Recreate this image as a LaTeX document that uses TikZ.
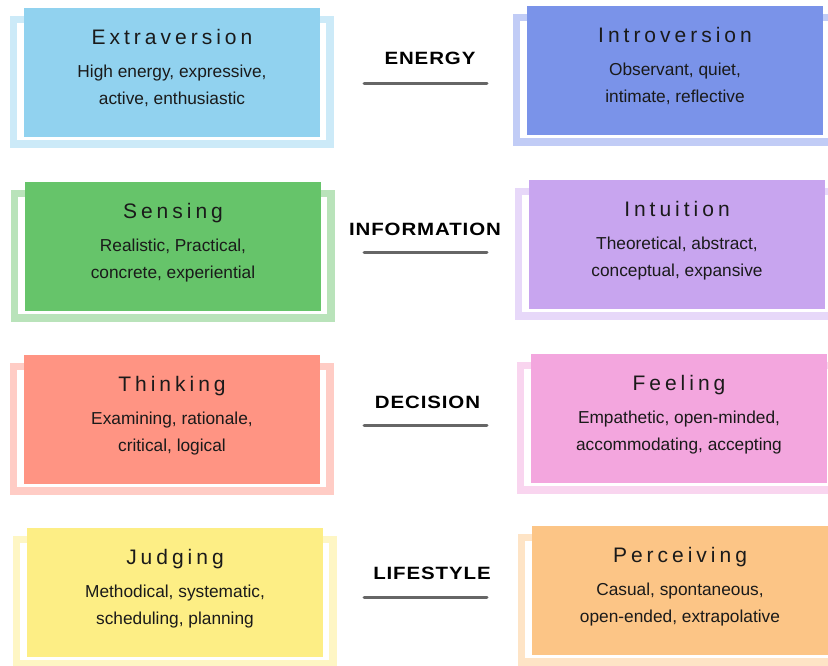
\documentclass[tikz,border=0pt]{standalone}
\usepackage{fontspec}
\setmainfont{Liberation Sans}
\newfontfamily\ttlfont[LetterSpace=19]{Liberation Sans}
\newfontfamily\lblfont[LetterSpace=5,FakeStretch=1.15]{Liberation Sans}
\definecolor{eF}{HTML}{91D2EF}\definecolor{eB}{HTML}{CCEAF8}
\definecolor{iF}{HTML}{7A93E9}\definecolor{iB}{HTML}{C1CCF6}
\definecolor{sF}{HTML}{66C46A}\definecolor{sB}{HTML}{B9E3BA}
\definecolor{nF}{HTML}{C8A5EF}\definecolor{nB}{HTML}{E7D8F9}
\definecolor{tF}{HTML}{FF9483}\definecolor{tB}{HTML}{FFCCC5}
\definecolor{fF}{HTML}{F3A6DE}\definecolor{fB}{HTML}{F9D5EF}
\definecolor{jF}{HTML}{FDEE85}\definecolor{jB}{HTML}{FEF6C4}
\definecolor{pF}{HTML}{FCC586}\definecolor{pB}{HTML}{FEE4C6}
\definecolor{txt}{HTML}{1A1A1A}
\definecolor{ul}{HTML}{666666}
\tikzset{
  boxsty/.style={rectangle, minimum width=296pt, minimum height=129pt, inner sep=0pt, draw=none},
  ttl/.style={inner sep=0pt, text=txt, font=\ttlfont\fontsize{21}{25}\selectfont},
  dsc/.style={inner sep=0pt, text=txt, font=\fontsize{17.3}{21}\selectfont},
  lbl/.style={inner sep=0pt, text=black, font=\lblfont\bfseries\fontsize{17.8}{22}\selectfont},
  uline/.style={line width=3pt, draw=ul, line cap=round},
  framesty/.style={line width=7.5pt}
}
\newcommand\mbti[8]{%
  \draw[framesty, draw=#5] ({#2-10.75},{#3+11.25}) rectangle ({#2+296+9.75},{#3+129+6.75});
  \node[boxsty, fill=#4, anchor=north west] (#1) at (#2,#3) {};
  \node[ttl, anchor=base] (#1-t) at ({#2+148},{#3+36}) {#6};
  \node[dsc, anchor=base] (#1-a) at ({#2+148},{#3+69}) {#7};
  \node[dsc, anchor=base] (#1-b) at ({#2+148},{#3+96}) {#8};
}
\begin{document}
\begin{tikzpicture}[x=1pt,y=-1pt]
\useasboundingbox (0,0) rectangle (828,665);
\fill[white] (0,0) rectangle (828,665);
\clip (0,0) rectangle (828,665);
\mbti{E}{24}{8}{eF}{eB}{Extraversion}{High energy, expressive,}{active, enthusiastic}
\mbti{I}{527}{6}{iF}{iB}{Introversion}{Observant, quiet,}{intimate, reflective}
\mbti{S}{25}{182}{sF}{sB}{Sensing}{Realistic, Practical,}{concrete, experiential}
\mbti{N}{529}{180}{nF}{nB}{Intuition}{Theoretical, abstract,}{conceptual, expansive}
\mbti{T}{24}{355}{tF}{tB}{Thinking}{Examining, rationale,}{critical, logical}
\mbti{F}{531}{354}{fF}{fB}{Feeling}{Empathetic, open-minded,}{accommodating, accepting}
\mbti{J}{27}{528}{jF}{jB}{Judging}{Methodical, systematic,}{scheduling, planning}
\mbti{P}{532}{526}{pF}{pB}{Perceiving}{Casual, spontaneous,}{open-ended, extrapolative}
\node[lbl] (energy) at (430,58.5) {ENERGY};
\node[lbl] (info) at (425,229) {INFORMATION};
\node[lbl] (decision) at (427.5,402) {DECISION};
\node[lbl] (lifestyle) at (432,573) {LIFESTYLE};
\coordinate (u1a) at (364,83); \coordinate (u1b) at (487,83);
\coordinate (u2a) at (364,252); \coordinate (u2b) at (487,252);
\coordinate (u3a) at (364,425); \coordinate (u3b) at (487,425);
\coordinate (u4a) at (364,597); \coordinate (u4b) at (487,597);
\draw[uline] (u1a) -- (u1b);
\draw[uline] (u2a) -- (u2b);
\draw[uline] (u3a) -- (u3b);
\draw[uline] (u4a) -- (u4b);
\end{tikzpicture}
\end{document}
